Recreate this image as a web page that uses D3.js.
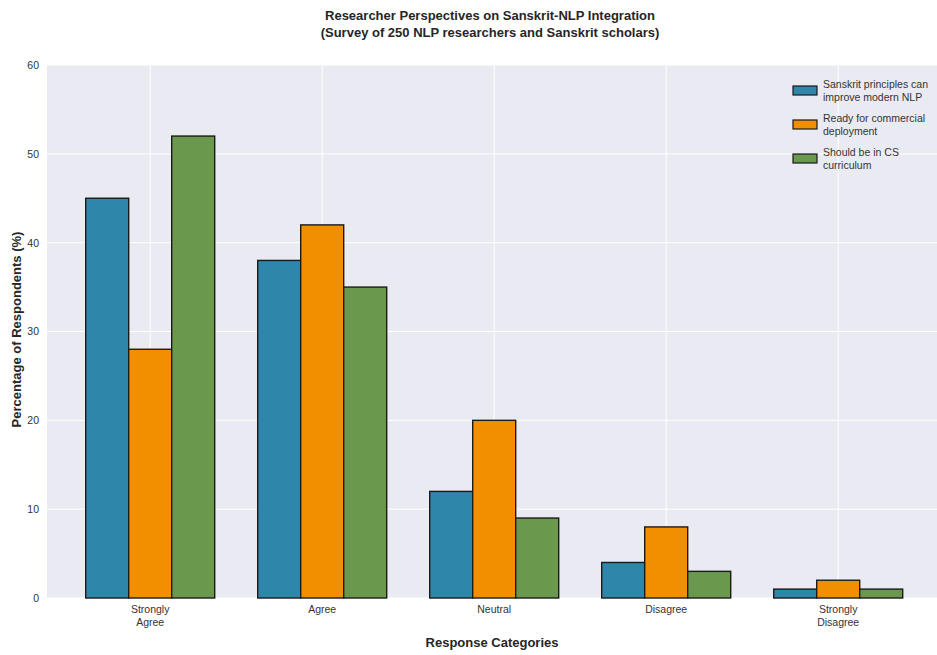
<!DOCTYPE html>
<html>
<head>
<meta charset="utf-8">
<script src="https://cdn.jsdelivr.net/npm/d3@7/dist/d3.min.js"></script>
<style>
  html, body { margin: 0; padding: 0; background: #ffffff; }
  svg { display: block; font-family: "Liberation Sans", "DejaVu Sans", Arial, sans-serif; }
</style>
</head>
<body>
<svg id="chart" width="937" height="655"></svg>
<script>
// Survey response categories and percentages per statement
const categories = ["Strongly\nAgree", "Agree", "Neutral", "Disagree", "Strongly\nDisagree"];
const seriesNames = [
  "Sanskrit principles can\nimprove modern NLP",
  "Ready for commercial\ndeployment",
  "Should be in CS\ncurriculum"
];
const improveNLP = [45, 38, 12, 4, 1];
const commercialReady = [28, 42, 20, 8, 2];
const csCurriculum = [52, 35, 9, 3, 1];
const yTicks = [0, 10, 20, 30, 40, 50, 60];
const colors = ["#2E86AB", "#F18F01", "#6A994E"];

const series = [improveNLP, commercialReady, csCurriculum];

const svg = d3.select("#chart");
const W = 937, H = 655;
const plotLeft = 47, plotTop = 65, plotBottom = 598;

const x = d3.scaleLinear().domain([-0.6, 4.6]).range([plotLeft, plotLeft + 5.2 * 172]);
const y = d3.scaleLinear().domain([0, 60]).range([plotBottom, plotTop]);
const barW = 0.25;
const offsets = [-0.25, 0, 0.25];

// Plot background
svg.append("rect")
  .attr("x", plotLeft).attr("y", plotTop)
  .attr("width", W - plotLeft).attr("height", plotBottom - plotTop)
  .attr("fill", "#EAEAF2");

// Grid lines
const grid = svg.append("g");
grid.selectAll("line.h").data(yTicks).join("line")
  .attr("x1", plotLeft).attr("x2", W)
  .attr("y1", d => y(d)).attr("y2", d => y(d))
  .attr("stroke", "#ffffff").attr("stroke-width", 1);
grid.selectAll("line.v").data(categories.map((c, i) => i)).join("line")
  .attr("x1", d => x(d)).attr("x2", d => x(d))
  .attr("y1", plotTop).attr("y2", plotBottom)
  .attr("stroke", "#ffffff").attr("stroke-width", 1);

// Bars
series.forEach((vals, s) => {
  svg.append("g").selectAll("rect").data(vals).join("rect")
    .attr("x", (d, i) => x(i + offsets[s] - barW / 2))
    .attr("width", x(barW) - x(0))
    .attr("y", d => y(d))
    .attr("height", d => y(0) - y(d))
    .attr("fill", colors[s])
    .attr("stroke", "#1a1a1a")
    .attr("stroke-width", 1.4);
});

// Y axis ticks
const yAxis = d3.axisLeft(y).tickValues(yTicks).tickSize(0).tickPadding(8);
const gy = svg.append("g").attr("transform", `translate(${plotLeft},0)`).call(yAxis);
gy.select(".domain").remove();
gy.selectAll("text").attr("font-size", 10.5).attr("fill", "#333333")
  .attr("font-family", "Liberation Sans, DejaVu Sans, sans-serif");

// X axis tick labels (multi-line)
const gx = svg.append("g");
categories.forEach((c, i) => {
  const t = gx.append("text")
    .attr("x", x(i)).attr("y", plotBottom + 15)
    .attr("text-anchor", "middle")
    .attr("font-size", 10.5).attr("fill", "#333333");
  c.split("\n").forEach((line, k) => {
    t.append("tspan").attr("x", x(i)).attr("dy", k === 0 ? 0 : 13).text(line);
  });
});

// Axis titles
svg.append("text")
  .attr("x", 492).attr("y", 647)
  .attr("text-anchor", "middle")
  .attr("font-size", 13).attr("font-weight", "bold").attr("fill", "#262626")
  .text("Response Categories");

svg.append("text")
  .attr("transform", `translate(21,${(plotTop + plotBottom) / 2 - 2}) rotate(-90)`)
  .attr("text-anchor", "middle")
  .attr("font-size", 13).attr("font-weight", "bold").attr("fill", "#262626")
  .text("Percentage of Respondents (%)");

// Title
const title = svg.append("text")
  .attr("x", 490).attr("y", 20)
  .attr("text-anchor", "middle")
  .attr("font-size", 13).attr("font-weight", "bold").attr("fill", "#262626");
title.append("tspan").attr("x", 490).attr("dy", 0).text("Researcher Perspectives on Sanskrit-NLP Integration");
title.append("tspan").attr("x", 490).attr("dy", 17).text("(Survey of 250 NLP researchers and Sanskrit scholars)");

// Legend
const legend = svg.append("g").attr("transform", "translate(793,84)");
seriesNames.forEach((name, s) => {
  const g = legend.append("g").attr("transform", `translate(0,${s * 34})`);
  g.append("rect")
    .attr("x", 0).attr("y", 2)
    .attr("width", 24).attr("height", 9)
    .attr("fill", colors[s]).attr("stroke", "#1a1a1a").attr("stroke-width", 1.2);
  const t = g.append("text")
    .attr("x", 30).attr("y", 4)
    .attr("font-size", 10.5).attr("fill", "#333333");
  name.split("\n").forEach((line, k) => {
    t.append("tspan").attr("x", 30).attr("dy", k === 0 ? 0 : 13).text(line);
  });
});
</script>
</body>
</html>
